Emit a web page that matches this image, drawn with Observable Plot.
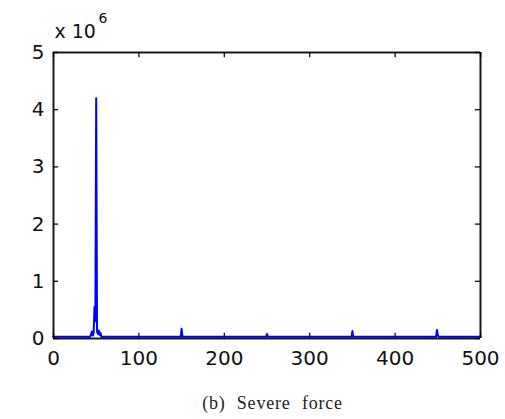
<!DOCTYPE html>
<html>
<head>
<meta charset="utf-8">
<script src="https://cdn.jsdelivr.net/npm/d3@7"></script>
<script src="https://cdn.jsdelivr.net/npm/@observablehq/plot@0.6"></script>
<style>
  html, body { margin: 0; padding: 0; background: #fff; }
  #wrap { position: relative; width: 505px; height: 419px; overflow: hidden; }
  #caption { position: absolute; left: 0; width: 545px; top: 393px; text-align: center;
    font-family: "Liberation Serif", "Times New Roman", serif; font-size: 18px; letter-spacing: 0.8px; word-spacing: 6px; color: #222; }
</style>
</head>
<body>
<div id="wrap"><div id="chart"></div><div id="caption">(b) Severe force</div></div>
<script>
// frequency (x) and amplitude (×10^6)
const freq = [0, 43, 44, 45, 46, 47, 48, 49, 50, 51, 52, 53, 54, 55, 56,
  149, 150, 151, 249, 250, 251, 349, 350, 351, 448, 449, 450, 451, 500];
const amp = [0.03, 0.03, 0.08, 0.12, 0.05, 0.1, 0.55, 0.3, 4.2, 0.12, 0.08, 0.14, 0.06, 0.1, 0.03,
  0.03, 0.17, 0.03, 0.03, 0.08, 0.03, 0.03, 0.13, 0.03, 0.03, 0.15, 0.06, 0.03, 0.03];
const xTicks = [0, 100, 200, 300, 400, 500];
const yTicks = [0, 1, 2, 3, 4, 5];
const xEdges = [0, 500];
const yEdges = [0, 5];
const exponentBase = "x 10";
const exponent = "6";

const data = freq.map((f, i) => ({f, a: amp[i]}));
const font = "DejaVu Sans, Liberation Sans, Arial, sans-serif";
const ink = "#111";
const blank = () => "";

const chart = Plot.plot({
  width: 505,
  height: 385,
  marginLeft: 53,
  marginRight: 25,
  marginTop: 52,
  marginBottom: 47,
  style: {fontFamily: font, fontSize: "20px", color: ink, background: "#fff"},
  x: {type: "linear", domain: [0, 500]},
  y: {type: "linear", domain: [0, 5]},
  marks: [
    Plot.axisX({anchor: "bottom", ticks: xTicks, tickSize: 0, tickPadding: 12, label: null, fontSize: 20, fill: ink, tickFormat: d => d}),
    Plot.axisY({anchor: "left", ticks: yTicks, tickSize: 0, tickPadding: 9, label: null, fontSize: 20, fill: ink, tickFormat: d => d}),
    Plot.ruleX(xTicks, {x: d => d, y1: 0, y2: 0.09, stroke: ink, strokeWidth: 1.3}),
    Plot.ruleX(xTicks, {x: d => d, y1: 5, y2: 4.91, stroke: ink, strokeWidth: 1.3}),
    Plot.ruleY(yTicks, {y: d => d, x1: 0, x2: 6, stroke: ink, strokeWidth: 1.3}),
    Plot.ruleY(yTicks, {y: d => d, x1: 500, x2: 494, stroke: ink, strokeWidth: 1.3}),
    Plot.line(data, {x: "f", y: "a", stroke: "#0000ff", strokeWidth: 2}),
    Plot.ruleY(yEdges, {y: d => d, stroke: "#000", strokeWidth: 2, strokeOpacity: 0.9}),
    Plot.ruleX(xEdges, {x: d => d, stroke: "#000", strokeWidth: 2, strokeOpacity: 0.9}),
    Plot.text([exponentBase], {frameAnchor: "top-left", text: d => d, textAnchor: "start", lineAnchor: "bottom", dx: 1, dy: -15, fontSize: 19, fill: ink}),
    Plot.text([exponent], {frameAnchor: "top-left", text: d => d, textAnchor: "start", lineAnchor: "bottom", dx: 45, dy: -30, fontSize: 14, fill: ink})
  ]
});
document.getElementById("chart").appendChild(chart);
</script>
</body>
</html>
